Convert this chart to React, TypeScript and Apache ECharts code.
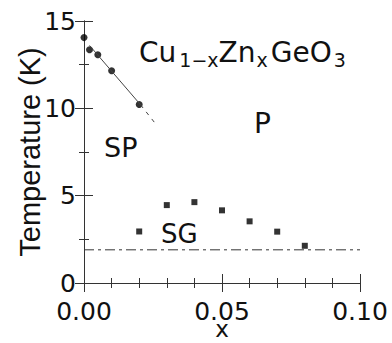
import React, { useEffect, useRef } from "react";
import * as echarts from "echarts";

// SP transition points (circles)
const circleX = [0.0, 0.002, 0.005, 0.01, 0.02];
const circleT = [14.05, 13.35, 13.07, 12.15, 10.22];
// SG transition points (squares)
const squareX = [0.02, 0.03, 0.04, 0.05, 0.06, 0.07, 0.08];
const squareT = [2.95, 4.46, 4.63, 4.16, 3.53, 2.94, 2.13];
// guide line through SP points (solid part, then dashed extension)
const fitSolidX = [0.002, 0.0205];
const fitSolidT = [13.6, 10.2];
const fitDashX = [0.0205, 0.0255];
const fitDashT = [10.2, 9.2];
// dash-dot horizontal line
const hLineX = [0.0, 0.1];
const hLineT = [1.9, 1.9];
// axis ranges
const xMin = 0, xMax = 0.1, xStep = 0.05;
const yMin = 0, yMax = 15, yStep = 5;

const zip = (a: number[], b: number[]) => a.map((v, i) => [v, b[i]]);

const FONT_H = "DejaVu Sans";
const FONT_V = "Liberation Sans";
const AX = "#333";

export default function App() {
  const ref = useRef<HTMLDivElement>(null);
  useEffect(() => {
    if (!ref.current) return;
    const chart = echarts.init(ref.current, undefined, { renderer: "svg" });
    const tickCommon = {
      axisLine: { show: true, lineStyle: { color: AX, width: 1 } },
      axisTick: { show: true, inside: true, length: 9, lineStyle: { color: AX } },
      minorTick: { show: true, length: 5, lineStyle: { color: AX } },
      splitLine: { show: false },
      minorSplitLine: { show: false },
    };
    chart.setOption({
      animation: false,
      backgroundColor: "#fff",
      grid: { left: 84, top: 21, right: 32, bottom: 60, containLabel: false, outerBoundsMode: "none" },
      xAxis: [
        {
          type: "value", min: xMin, max: xMax, interval: xStep, position: "bottom",
          ...tickCommon,
          minorTick: { ...tickCommon.minorTick, splitNumber: 5 },
          axisLabel: {
            margin: 17, lineHeight: 22, fontFamily: FONT_H, fontSize: 25, color: "#111",
            formatter: (v: number) => v.toFixed(2),
          },
          name: "x", nameLocation: "middle", nameGap: 36, nameMoveOverlap: false,
          nameTextStyle: { fontFamily: FONT_H, fontSize: 23, lineHeight: 20, color: "#111" },
        },
        {
          type: "value", min: xMin, max: xMax, interval: xStep, position: "top",
          ...tickCommon,
          minorTick: { ...tickCommon.minorTick, splitNumber: 5 },
          axisLabel: { show: false },
        },
      ],
      yAxis: [
        {
          type: "value", min: yMin, max: yMax, interval: yStep, position: "left",
          ...tickCommon,
          minorTick: { ...tickCommon.minorTick, splitNumber: 2 },
          axisLabel: { margin: 8, lineHeight: 22, fontFamily: FONT_H, fontSize: 25, color: "#111" },
          name: "Temperature (K)", nameLocation: "middle", nameGap: 40, nameMoveOverlap: false,
          nameTextStyle: { fontFamily: FONT_V, fontSize: 29, color: "#111" },
        },
        {
          type: "value", min: yMin, max: yMax, interval: yStep, position: "right",
          ...tickCommon,
          minorTick: { ...tickCommon.minorTick, splitNumber: 2 },
          axisLabel: { show: false },
        },
      ],
      series: [
        {
          type: "line", data: zip(hLineX, hLineT), symbol: "none", silent: true,
          lineStyle: { color: "#333", width: 1, type: [10, 4, 3, 4] },
        },
        {
          type: "line", data: zip(fitSolidX, fitSolidT), symbol: "none", silent: true,
          lineStyle: { color: "#444", width: 1 },
        },
        {
          type: "line", data: zip(fitDashX, fitDashT), symbol: "none", silent: true,
          lineStyle: { color: "#444", width: 1, type: [4, 5] },
        },
        {
          type: "scatter", data: zip(circleX, circleT), symbol: "circle", symbolSize: 7,
          itemStyle: { color: "#000" }, clip: false,
        },
        {
          type: "scatter", data: zip(squareX, squareT), symbol: "rect", symbolSize: 6,
          itemStyle: { color: "#000" }, clip: false,
        },
      ],
      graphic: [
        {
          type: "text", x: 139, y: 52, silent: true,
          style: {
            text: "{n|Cu}{s|1−x}{z|Zn}{s2|x}{g|GeO}{s3|3}",
            verticalAlign: "middle",
            fill: "#111",
            rich: {
              n: { fontFamily: FONT_H, fontSize: 28, fill: "#111" },
              z: { fontFamily: FONT_H, fontSize: 28, fill: "#111" },
              g: { fontFamily: FONT_H, fontSize: 28, fill: "#111", padding: [0, 0, 0, 3] },
              s: { fontFamily: FONT_H, fontSize: 19, fill: "#111", padding: [16, 0, 0, 3] },
              s2: { fontFamily: FONT_H, fontSize: 19, fill: "#111", padding: [16, 0, 0, 1] },
              s3: { fontFamily: FONT_H, fontSize: 19, fill: "#111", padding: [16, 0, 0, 2] },
            },
          },
        },
        {
          type: "text", x: 104, y: 147.5, silent: true,
          style: { text: "SP", fontFamily: FONT_H, fontSize: 27, fill: "#111", verticalAlign: "middle" },
        },
        {
          type: "text", x: 254, y: 123, silent: true,
          style: { text: "P", fontFamily: FONT_H, fontSize: 28, fill: "#111", verticalAlign: "middle" },
        },
        {
          type: "text", x: 161, y: 234, silent: true,
          style: { text: "SG", fontFamily: FONT_H, fontSize: 26, fill: "#111", verticalAlign: "middle" },
        },
      ],
    });
    return () => chart.dispose();
  }, []);
  return (
    <div
      ref={ref}
      style={{ position: "fixed", left: 0, top: 0, width: 392, height: 343, overflow: "hidden" }}
    />
  );
}
